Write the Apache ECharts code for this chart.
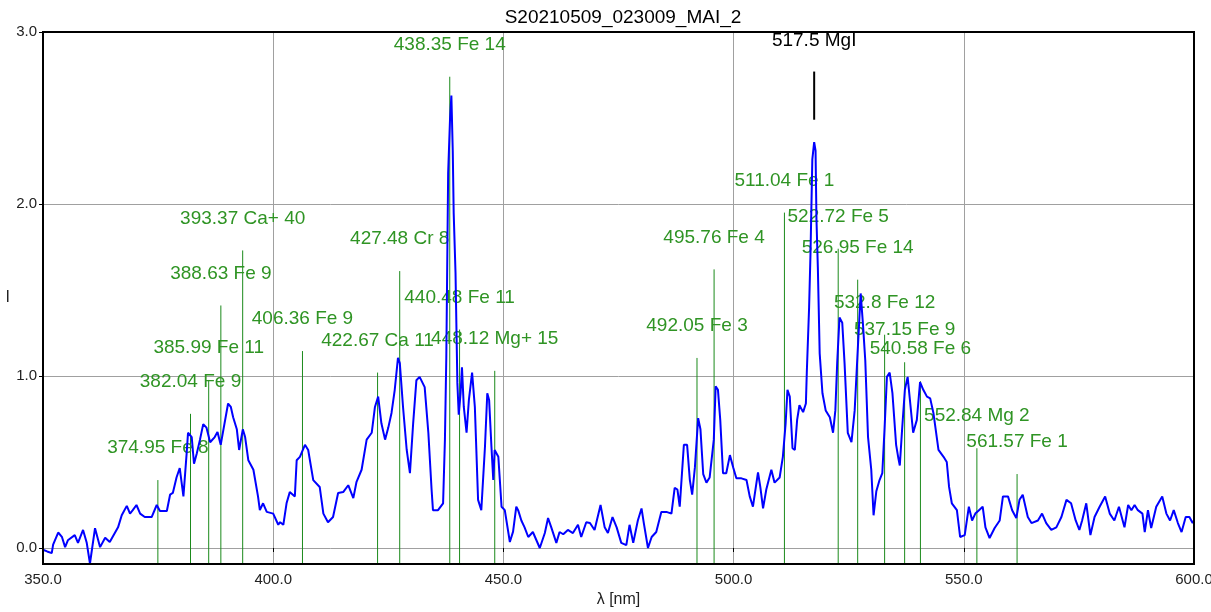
<!DOCTYPE html>
<html>
<head>
<meta charset="utf-8">
<script src="https://cdn.jsdelivr.net/npm/echarts@6/dist/echarts.min.js"></script>
<style>
html,body{margin:0;padding:0;background:#fff;}
#chart{width:1211px;height:612px;}
</style>
</head>
<body>
<div id="chart"></div>
<script>
// ---- data ----
const chartTitle = "S20210509_023009_MAI_2";
const xTickValues = [350, 400, 450, 500, 550, 600];
const yTickValues = [0, 1, 2, 3];

const wavelength = [
350.0,350.9,351.9,352.2,353.3,354.1,354.8,355.4,356.9,357.6,358.7,359.5,360.2,361.3,362.4,363.5,364.5,366.3,367.1,368.2,
368.9,369.5,370.3,371.1,372.1,373.6,374.7,375.4,376.9,377.6,378.2,379.0,379.7,380.5,381.2,381.5,382.3,382.8,383.4,384.1,
384.8,385.5,386.3,387.3,387.9,388.6,389.1,390.2,390.8,391.3,392.1,392.6,393.4,393.9,394.6,395.7,396.7,397.1,397.8,398.6,
400.0,401.1,401.5,402.2,402.9,403.6,404.7,405.1,405.8,406.9,407.6,408.7,410.1,410.9,411.9,413.0,414.1,415.2,416.3,417.4,
418.1,419.2,420.3,421.4,422.1,422.8,423.5,424.3,425.0,425.7,426.4,427.1,427.5,428.2,429.0,429.7,430.4,431.1,431.8,432.9,
433.7,434.4,434.7,435.8,436.9,437.3,437.6,438.0,438.4,438.7,439.0,439.2,439.6,440.0,440.3,440.7,441.0,441.4,442.0,442.5,
443.2,443.8,444.5,445.2,446.0,446.5,446.9,447.4,447.8,448.1,448.9,449.6,450.3,451.4,452.1,452.8,453.2,453.9,454.6,455.4,
456.4,457.9,459.0,459.7,460.4,461.5,462.2,463.0,464.0,465.1,466.2,466.9,468.0,468.8,469.8,471.1,472.0,472.7,473.7,474.6,
475.6,476.7,477.4,478.2,479.2,480.0,480.5,481.4,482.2,483.2,484.3,485.4,486.5,487.2,487.8,488.3,489.2,489.9,490.5,491.0,
491.6,492.3,492.8,493.4,494.1,494.8,495.7,496.1,496.6,497.1,497.7,498.4,499.2,499.9,500.6,501.7,502.8,503.5,504.2,505.3,
505.8,506.4,507.1,508.2,508.9,510.0,510.7,511.3,511.7,512.2,512.8,513.3,513.8,514.3,515.1,515.7,515.9,516.4,516.7,517.1,
517.5,517.8,518.0,518.3,518.7,519.3,520.0,520.9,521.6,522.1,522.5,523.0,523.6,524.1,524.8,525.6,526.3,527.0,527.6,528.1,
528.6,529.2,529.9,530.4,531.0,531.7,532.3,532.8,533.3,533.9,534.5,535.3,535.8,536.1,536.6,537.2,537.8,538.3,539.0,539.8,
540.5,541.2,542.0,542.7,543.4,544.5,545.6,546.3,546.8,547.4,548.5,549.2,550.2,551.1,551.8,552.5,553.3,554.1,554.7,555.6,
556.7,557.8,558.5,559.6,560.5,561.4,562.1,562.8,563.9,564.7,566.1,567.0,567.9,569.0,570.1,571.2,572.3,573.3,574.3,575.1,
575.7,576.6,577.5,578.4,579.5,580.7,581.7,582.7,583.7,584.9,585.7,586.4,587.1,587.8,588.8,589.3,590.0,590.7,591.8,593.1,
594.0,594.8,595.6,596.5,597.3,598.2,599.0,599.7,600.0
];
const intensity = [
-0.01,-0.02,-0.03,0.02,0.09,0.065,0.005,0.045,0.075,0.03,0.105,0.03,-0.09,0.115,0.005,0.06,0.035,0.12,0.19,0.245,
0.20,0.22,0.25,0.20,0.18,0.18,0.25,0.215,0.215,0.31,0.32,0.41,0.465,0.30,0.55,0.67,0.645,0.49,0.55,0.63,
0.72,0.70,0.615,0.645,0.675,0.60,0.675,0.84,0.82,0.76,0.69,0.57,0.69,0.645,0.51,0.455,0.30,0.22,0.26,0.21,
0.20,0.135,0.15,0.135,0.26,0.325,0.30,0.51,0.53,0.60,0.57,0.395,0.355,0.20,0.15,0.18,0.32,0.325,0.365,0.29,
0.385,0.455,0.63,0.67,0.82,0.88,0.725,0.63,0.70,0.785,0.92,1.105,1.075,0.82,0.57,0.435,0.725,0.975,0.995,0.935,
0.67,0.34,0.22,0.22,0.26,0.63,1.11,2.18,2.49,2.63,2.31,1.95,1.60,0.96,0.775,0.90,1.05,0.82,0.67,0.86,
1.02,0.82,0.28,0.22,0.59,0.90,0.86,0.59,0.395,0.57,0.53,0.24,0.22,0.035,0.095,0.24,0.22,0.16,0.12,0.064,
0.093,0.0,0.087,0.174,0.12,0.03,0.093,0.08,0.105,0.087,0.135,0.064,0.15,0.145,0.105,0.25,0.12,0.087,0.18,0.12,
0.03,0.017,0.135,0.03,0.16,0.23,0.145,0.0,0.064,0.093,0.21,0.21,0.20,0.35,0.34,0.24,0.60,0.60,0.395,0.31,
0.47,0.755,0.69,0.43,0.38,0.41,0.63,0.94,0.92,0.745,0.435,0.435,0.54,0.47,0.405,0.405,0.395,0.30,0.24,0.44,
0.355,0.23,0.34,0.455,0.38,0.41,0.53,0.725,0.92,0.88,0.58,0.57,0.745,0.83,0.79,0.84,1.02,1.40,1.71,2.26,
2.36,2.31,1.91,1.63,1.13,0.90,0.80,0.76,0.67,0.80,1.075,1.34,1.31,1.075,0.67,0.615,0.80,1.17,1.48,1.30,
1.09,0.645,0.455,0.19,0.33,0.395,0.435,0.70,0.995,1.02,0.90,0.60,0.52,0.48,0.69,0.92,0.995,0.86,0.67,0.745,
0.965,0.92,0.88,0.87,0.785,0.57,0.53,0.50,0.355,0.26,0.22,0.064,0.075,0.24,0.16,0.20,0.22,0.24,0.12,0.058,
0.116,0.16,0.30,0.30,0.22,0.174,0.28,0.31,0.18,0.145,0.16,0.20,0.145,0.105,0.12,0.18,0.28,0.26,0.16,0.105,
0.16,0.26,0.075,0.18,0.24,0.30,0.20,0.16,0.24,0.12,0.25,0.22,0.25,0.22,0.20,0.093,0.22,0.116,0.24,0.30,
0.20,0.16,0.22,0.145,0.093,0.18,0.18,0.145,0.16
];

const lineWavelength = [374.95,382.04,385.99,388.63,393.37,406.36,422.67,427.48,438.35,440.48,448.12,492.05,495.76,511.04,522.72,526.95,532.8,537.15,540.58,552.84,561.57];
const lineHeight = [0.395,0.78,0.977,1.41,1.73,1.145,1.02,1.61,2.74,1.27,1.03,1.105,1.62,1.95,1.74,1.56,1.24,1.08,0.97,0.58,0.43];
const lineLabels = ["374.95 Fe 8","382.04 Fe 9","385.99 Fe 11","388.63 Fe 9","393.37 Ca+ 40","406.36 Fe 9","422.67 Ca 11","427.48 Cr 8","438.35 Fe 14","440.48 Fe 11","448.12 Mg+ 15","492.05 Fe 3","495.76 Fe 4","511.04 Fe 1","522.72 Fe 5","526.95 Fe 14","532.8 Fe 12","537.15 Fe 9","540.58 Fe 6","552.84 Mg 2","561.57 Fe 1"];

const markerWavelength = [517.5];
const markerLow = [2.49];
const markerHigh = [2.77];
const markerLabels = ["517.5 MgI"];

// ---- chart ----
const Y_MIN = -0.093, Y_MAX = 3.0;
const FONT = '"Liberation Sans", Arial, sans-serif';
const chart = echarts.init(document.getElementById('chart'), null, {renderer:'canvas'});

const option = {
  animation: false,
  backgroundColor: '#ffffff',
  title: {
    text: chartTitle, left: 618, top: 3, textAlign: 'center',
    textStyle: {fontFamily: FONT, fontSize: 19, fontWeight: 'normal', color: '#000'}
  },
  grid: {left: 43, right: 17, top: 32, bottom: 48, show: true, borderColor: '#000', borderWidth: 2, z: 10, outerBoundsMode: 'none', containLabel: false},
  xAxis: {
    type: 'value', min: 350, max: 600, interval: 50,
    name: 'λ [nm]', nameLocation: 'middle', nameGap: 25,
    nameTextStyle: {fontFamily: FONT, fontSize: 16, color: '#222'},
    axisLine: {show: false},
    axisTick: {show: true, length: 4, lineStyle: {color: '#000'}},
    splitLine: {show: true, lineStyle: {color: '#a0a0a0', width: 1}},
    axisLabel: {formatter: v => v.toFixed(1), fontFamily: FONT, fontSize: 15, color: '#222', margin: 8, hideOverlap: false}
  },
  yAxis: {
    type: 'value', min: Y_MIN, max: Y_MAX,
    name: 'I', nameLocation: 'middle', nameGap: 33, nameRotate: 0,
    nameTextStyle: {fontFamily: FONT, fontSize: 16, color: '#222'},
    axisLine: {show: false},
    axisTick: {show: true, length: 4, customValues: yTickValues, lineStyle: {color: '#000'}},
    splitLine: {show: true, lineStyle: {color: '#a0a0a0', width: 1}},
    axisLabel: {customValues: yTickValues, formatter: v => v.toFixed(1), fontFamily: FONT, fontSize: 15, color: '#222', margin: 6}
  },
  series: [
    {
      type: 'custom', z: 1, silent: true,
      data: lineWavelength.map((w, i) => [w, lineHeight[i]]),
      renderItem: (params, api) => {
        const x = api.value(0), h = api.value(1);
        const top = api.coord([x, h]);
        const bot = api.coord([x, Y_MIN]);
        return {type: 'group', children: [
          {type: 'line', shape: {x1: top[0], y1: bot[1], x2: top[0], y2: top[1]}, style: {stroke: '#1b8a1b', lineWidth: 1}},
          {type: 'text', x: top[0], y: top[1] - 32, z2: 5, style: {text: lineLabels[params.dataIndex], fill: '#2f9424', font: '19px ' + FONT, align: 'center', verticalAlign: 'middle'}}
        ]};
      }
    },
    {
      type: 'line', z: 3, data: wavelength.map((w, i) => [w, intensity[i]]),
      showSymbol: false, symbol: 'none', sampling: null,
      lineStyle: {color: '#0000ff', width: 2}, clip: true
    },
    {
      type: 'custom', z: 4, silent: true,
      data: markerWavelength.map((w, i) => [w, markerLow[i], markerHigh[i]]),
      renderItem: (params, api) => {
        const x = api.value(0);
        const lo = api.coord([x, api.value(1)]);
        const hi = api.coord([x, api.value(2)]);
        return {type: 'group', children: [
          {type: 'line', shape: {x1: lo[0], y1: lo[1], x2: hi[0], y2: hi[1]}, style: {stroke: '#000', lineWidth: 2}},
          {type: 'text', x: hi[0], y: hi[1] - 31, style: {text: markerLabels[params.dataIndex], fill: '#000', font: '19px ' + FONT, align: 'center', verticalAlign: 'middle'}}
        ]};
      }
    }
  ]
};
chart.setOption(option);
</script>
</body>
</html>
